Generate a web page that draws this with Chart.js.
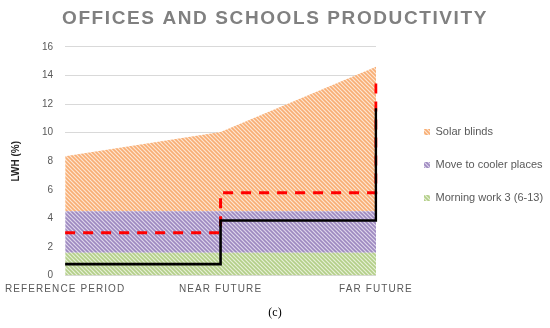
<!DOCTYPE html>
<html><head><meta charset="utf-8">
<script src="https://cdn.jsdelivr.net/npm/chart.js@4.4.0/dist/chart.umd.min.js"></script>
<style>html,body{margin:0;padding:0;background:#fff;}</style>
</head><body>
<canvas id="c" width="550" height="328"></canvas>
<script>
const categories = ['REFERENCE PERIOD', 'NEAR FUTURE', 'FAR FUTURE'];
const morningWork = [1.6, 1.6, 1.6];
const moveToCooler = [2.9, 2.9, 2.9];
const solarBlinds = [3.85, 5.55, 10.1];
const blackLine = [0.8, 3.85, 11.7];
const redDashed = [3.0, 5.8, 13.8];
const yTicks = [0, 2, 4, 6, 8, 10, 12, 14, 16];

const canvas = document.getElementById('c');
const ctx = canvas.getContext('2d');

function hatch(bg, fg) {
  const c = document.createElement('canvas');
  c.width = 4; c.height = 4;
  const x = c.getContext('2d');
  x.fillStyle = bg; x.fillRect(0, 0, 4, 4);
  x.strokeStyle = fg; x.lineWidth = 1.6;
  x.beginPath();
  for (let k = -1; k <= 1; k++) { x.moveTo(k * 4 - 1, -1); x.lineTo(k * 4 + 5, 5); }
  x.stroke();
  return ctx.createPattern(c, 'repeat');
}

const orangeP = hatch('#fde6d3', '#f8ae74');
const purpleP = hatch('#ddd6ea', '#9e89c0');
const greenP = hatch('#e6efd7', '#b3cf88');

const spacingPlugin = {
  id: 'spacing',
  afterLayout(chart) {
    const lg = chart.legend;
    if (lg) {
      lg.left += 26; lg.right = chart.width; lg.width = lg.right - lg.left;
      lg.top += 3; lg.bottom += 3;
    }
    chart.boxes.forEach(b => {
      if (b !== lg && b.options && typeof b.options.text === 'string' && !b.axis && (b.options.position === 'top' || b.options.position === 'bottom')) {
        b.left = 0; b.right = chart.width; b.width = chart.width;
      }
    });
  },
  beforeDraw(chart) {
    const xs = chart.scales.x;
    if (xs && !xs.__ls) {
      const orig = xs.drawLabels;
      xs.drawLabels = function (a) { this.ctx.save(); this.ctx.letterSpacing = '1.1px'; orig.call(this, a); this.ctx.restore(); };
      xs.__ls = true;
    }
    const tb = chart.titleBlock;
    if (tb && !tb.__ls) {
      const o2 = tb.draw;
      tb.draw = function (a) { this.ctx.save(); this.ctx.letterSpacing = '1.6px'; o2.call(this, a); this.ctx.restore(); };
      tb.__ls = true;
    }
  }
};

new Chart(ctx, {
  type: 'line',
  data: {
    labels: categories,
    datasets: [
      { label: 'Black', data: blackLine, stack: 'b', borderColor: '#000', borderWidth: 2.6, stepped: true, fill: false, pointRadius: 0 },
      { label: 'Red', data: redDashed, stack: 'r', borderColor: '#ff0000', borderWidth: 3, borderDash: [10, 8], stepped: true, fill: false, pointRadius: 0 },
      { label: 'Morning work 3 (6-13)', data: morningWork, stack: 'a', backgroundColor: greenP, borderColor: greenP, borderWidth: 0, fill: 'origin', pointRadius: 0, tension: 0 },
      { label: 'Move to cooler places', data: moveToCooler, stack: 'a', backgroundColor: purpleP, borderColor: purpleP, borderWidth: 0, fill: '-1', pointRadius: 0, tension: 0 },
      { label: 'Solar blinds', data: solarBlinds, stack: 'a', backgroundColor: orangeP, borderColor: orangeP, borderWidth: 0, fill: '-1', pointRadius: 0, tension: 0 }
    ]
  },
  options: {
    responsive: false,
    animation: false,
    devicePixelRatio: 1,
    layout: { padding: { left: 10, right: 52, top: 0, bottom: 4 } },
    plugins: {
      title: {
        display: true, text: 'OFFICES AND SCHOOLS PRODUCTIVITY', color: '#808080',
        font: { family: 'Liberation Sans', size: 19, weight: 'bold' },
        padding: { top: 7, bottom: 17 }
      },
      subtitle: {
        display: true, text: '(c)', position: 'bottom', color: '#000',
        font: { family: 'Liberation Serif', size: 12 },
        padding: { top: 2, bottom: 4 }
      },
      legend: {
        position: 'right', align: 'center', reverse: true,
        labels: {
          filter: (item) => item.datasetIndex >= 2,
          boxWidth: 6, boxHeight: 6, padding: 22, color: '#595959',
          font: { family: 'Liberation Sans', size: 11 }
        }
      },
      tooltip: { enabled: false }
    },
    scales: {
      x: {
        offset: false,
        grid: { display: false, drawTicks: false },
        border: { display: false },
        ticks: { color: '#595959', font: { family: 'Liberation Sans', size: 10 }, padding: 8, maxRotation: 0, autoSkip: false }
      },
      y: {
        stacked: true, min: 0, max: 16,
        afterBuildTicks: (s) => { s.ticks = yTicks.map(v => ({ value: v })); },
        grid: { color: '#d9d9d9', drawTicks: false },
        border: { display: false },
        ticks: { color: '#595959', font: { family: 'Liberation Sans', size: 10 }, padding: 12 },
        title: { display: true, text: 'LWH (%)', color: '#262626', font: { family: 'Liberation Sans', size: 10, weight: 'bold' }, padding: { top: 0, bottom: 8 } }
      }
    }
  },
  plugins: [spacingPlugin]
});
</script>
</body></html>
